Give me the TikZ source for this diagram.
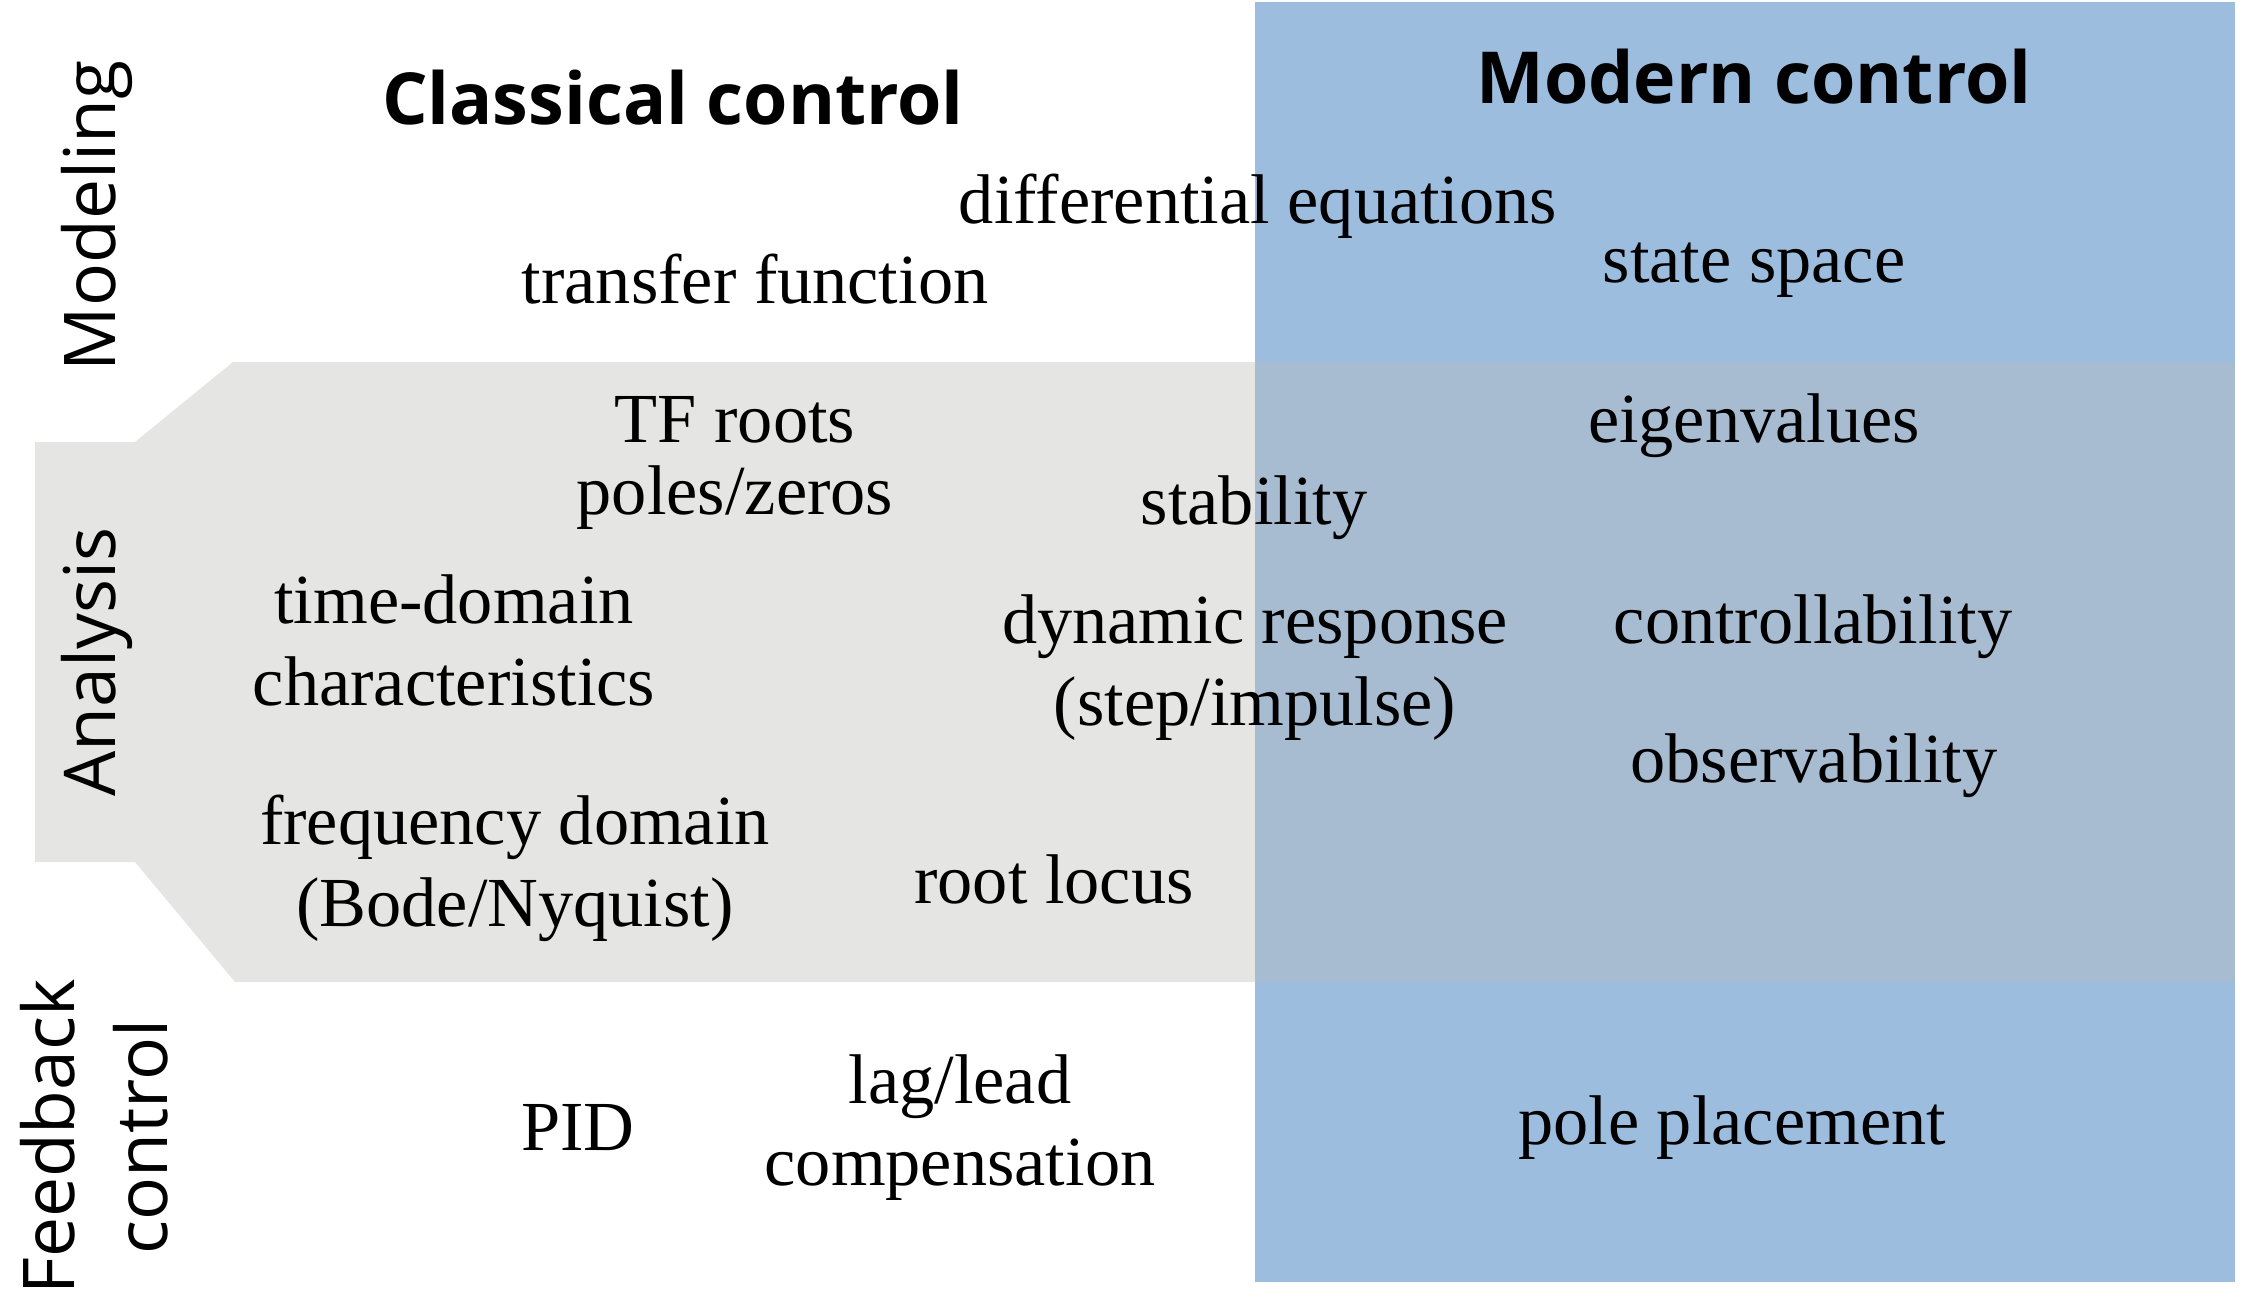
\documentclass[tikz,border=0pt]{standalone}
\usepackage{fontspec}
\setmainfont{Liberation Serif}
\newfontfamily\headfont{Open Sans}
\usepackage{xcolor}
\usepackage{tikz}
\usetikzlibrary{positioning}

\definecolor{modernblue}{HTML}{9DBDDF}
\definecolor{bandgray}{HTML}{E5E5E4}
\definecolor{overlapblue}{HTML}{A7BBD1}

\begin{document}
\begin{tikzpicture}[x=0.01cm,y=-0.01cm,
  item/.style={align=center,inner sep=0pt,font=\fontsize{20}{23.3}\selectfont},
  head/.style={anchor=base,inner sep=0pt,font=\headfont\bfseries\fontsize{20.4}{24}\selectfont},
  rowlab/.style={rotate=90,align=center,inner sep=0pt,font=\headfont\fontsize{20.3}{26.5}\selectfont}]
  \useasboundingbox (0,0) rectangle (2254,1297);
  % columns and the analysis band
  \fill[modernblue] (1255,2) rectangle (2235,1282);
  \fill[bandgray] (233,362) -- (1255,362) -- (1255,982) -- (235,982) -- (135,862)
    -- (35,862) -- (35,442) -- (135,442) -- cycle;
  \fill[overlapblue] (1255,362) rectangle (2235,982);

  \node[head] (classical) at (673,125) {Classical control};
  \node[head] (modern) at (1754,104) {Modern control};

  \node[rowlab,anchor=base] (modeling) at (115,216) {Modeling};
  \node[rowlab,anchor=base] (analysis) at (115,662) {Analysis};
  \node[rowlab] (feedback) at (94,1137) {Feedback\\control};

  % modeling
  \node[item,anchor=base] (diffeq) at (1258,224) {differential equations};
  \node[item,anchor=base] (tf) at (755,304) {transfer function};
  \node[item,anchor=base] (ss) at (1754,282) {state space};

  % analysis
  \node[item,font=\fontsize{20}{20.5}\selectfont] (roots) at (735,463) {TF roots\\poles/zeros};
  \node[item,anchor=base] (eig) at (1754,442) {eigenvalues};
  \node[item,anchor=base] (stab) at (1254,524) {stability};
  \node[item] (timedom) at (454,640) {time-domain\\characteristics};
  \node[item] (dynresp) at (1255,668) {dynamic response\\(step/impulse)};
  \node[item,anchor=base] (ctrb) at (1813,643) {controllability};
  \node[item,anchor=base] (obsv) at (1814,782) {observability};
  \node[item] (freqdom) at (515,868) {frequency domain\\(Bode/Nyquist)};
  \node[item,anchor=base] (rlocus) at (1054,903) {root locus};

  % feedback control
  \node[item,anchor=base] (pid) at (578,1150) {PID};
  \node[item] (laglead) at (960,1128) {lag/lead\\compensation};
  \node[item,anchor=base] (poleplace) at (1732,1144) {pole placement};
\end{tikzpicture}
\end{document}
